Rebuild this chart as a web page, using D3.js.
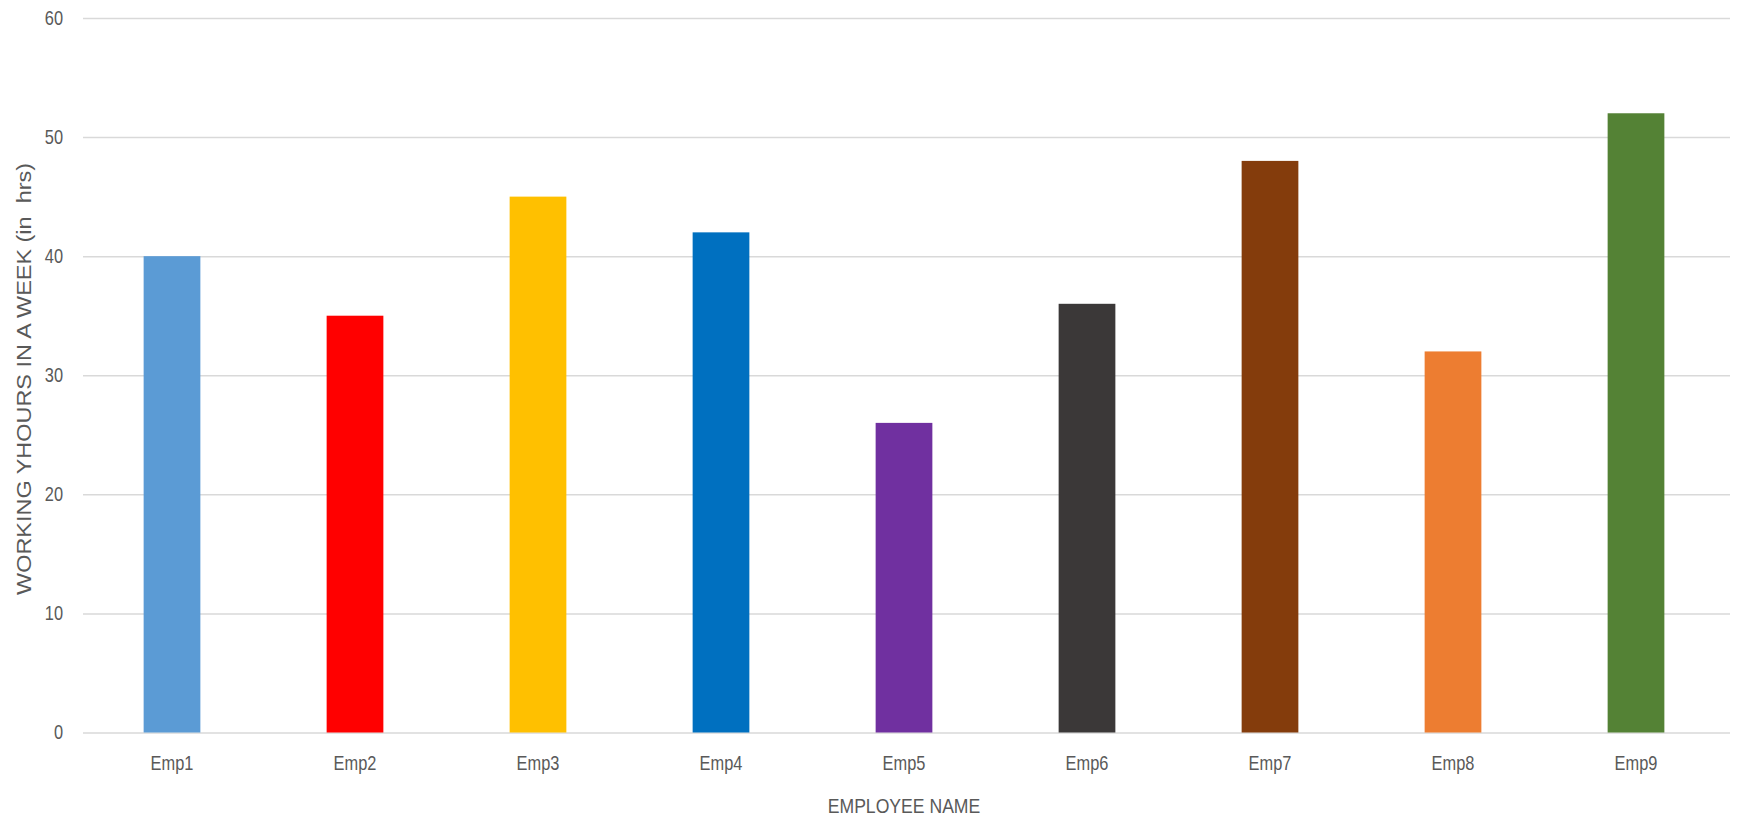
<!DOCTYPE html>
<html>
<head>
<meta charset="utf-8">
<script src="https://cdn.jsdelivr.net/npm/d3@7"></script>
<style>
  html, body { margin: 0; padding: 0; background: #ffffff; }
  svg { display: block; }
  text { font-family: "Liberation Sans", Arial, sans-serif; fill: #595959; }
</style>
</head>
<body>
<svg id="chart" width="1737" height="819"></svg>
<script>
const categories = ["Emp1", "Emp2", "Emp3", "Emp4", "Emp5", "Emp6", "Emp7", "Emp8", "Emp9"];
const hours = [40, 35, 45, 42, 26, 36, 48, 32, 52];
const barColors = ["#5B9BD5", "#FF0000", "#FFC000", "#0070C0", "#7030A0", "#3B3838", "#843C0C", "#ED7D31", "#548235"];
const yTicks = [0, 10, 20, 30, 40, 50, 60];
const xTitle = "EMPLOYEE NAME";
const yTitle = "WORKING YHOURS IN A WEEK (in  hrs)";

const svg = d3.select("#chart");
const plotLeft = 83, plotRight = 1730, plotTop = 18, plotBottom = 732.5;
const squeeze = 0.82;

const x = d3.scaleBand().domain(categories).range([plotLeft - 2.5, plotRight - 2.5]).paddingInner(0.69).paddingOuter(0.345);
const y = d3.scaleLinear().domain([0, 60]).range([plotBottom, plotTop]);

// gridlines + y tick labels
const yAxis = d3.axisLeft(y).tickValues(yTicks).tickSize(-(plotRight - plotLeft)).tickPadding(20).tickFormat(d3.format("d"));
const gy = svg.append("g").attr("transform", `translate(${plotLeft},0)`).call(yAxis);
gy.select(".domain").remove();
gy.selectAll(".tick line").attr("stroke", "#D9D9D9").attr("stroke-width", 1.5);
gy.selectAll(".tick text")
  .attr("font-size", 20).attr("fill", "#595959")
  .attr("x", -20 / squeeze)
  .attr("transform", `scale(${squeeze},1)`);

// bars
svg.append("g").selectAll("rect")
  .data(categories)
  .join("rect")
  .attr("x", d => x(d))
  .attr("width", x.bandwidth())
  .attr("y", (d, i) => y(hours[i]))
  .attr("height", (d, i) => y(0) - y(hours[i]))
  .attr("fill", (d, i) => barColors[i]);

// x axis labels
const xAxis = d3.axisBottom(x).tickSize(0).tickPadding(23);
const gx = svg.append("g").attr("transform", `translate(0,${plotBottom})`).call(xAxis);
gx.select(".domain").remove();
gx.selectAll(".tick text")
  .attr("font-size", 20).attr("fill", "#595959")
  .attr("transform", `scale(${squeeze},1)`);
svg.selectAll("g").attr("font-family", null);

// axis titles
svg.append("text")
  .attr("transform", "translate(904,813) scale(0.88,1)")
  .attr("text-anchor", "middle")
  .attr("font-size", 20)
  .text(xTitle);

svg.append("text")
  .attr("transform", "translate(31,379) rotate(-90)")
  .attr("text-anchor", "middle")
  .attr("font-size", 21)
  .attr("textLength", 432)
  .attr("lengthAdjust", "spacingAndGlyphs")
  .style("white-space", "pre")
  .text(yTitle);
</script>
</body>
</html>
